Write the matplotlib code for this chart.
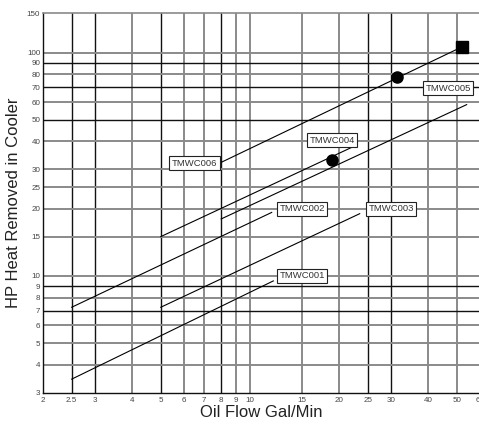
import matplotlib
matplotlib.use("Agg")
import matplotlib.pyplot as plt

plt.rcParams["font.family"] = ["Liberation Sans", "DejaVu Sans"]

# series: straight runs on the log-log grid (start -> end), one per cooler model
names = ["TMWC001", "TMWC002", "TMWC003", "TMWC004", "TMWC005", "TMWC006"]
start_x = [2.5, 2.5, 5.0, 5.0, 8.0, 7.9]
start_y = [3.45, 7.24, 7.24, 15.0, 18.0, 32.0]
end_x = [12.0, 11.85, 23.5, 22.8, 54.0, 52.0]
end_y = [9.5, 19.25, 19.0, 38.4, 58.5, 106.0]

# label box centres
label_x = [15, 15, 30, 19, 46.7, 6.5]
label_y = [10, 20, 20, 40.6, 69.3, 32]

# marked points
circle_x = [18.9, 31.3]
circle_y = [33.2, 78.0]
square_x = [52.0]
square_y = [106.0]

x_ticks = [2, 2.5, 3, 4, 5, 6, 7, 8, 9, 10, 15, 20, 25, 30, 40, 50, 60]
y_ticks = [3, 4, 5, 6, 7, 8, 9, 10, 15, 20, 25, 30, 40, 50, 60, 70, 80, 90, 100, 150]
x_dark = [2.5, 3, 5, 8, 25, 30]
y_dark = [7, 9, 50, 70, 90]

fig = plt.figure(figsize=(4.79, 4.24), dpi=100)
ax = fig.add_axes([43 / 479, 31.3 / 424, 437.2 / 479, 379.4 / 424])
ax.set_xscale("log")
ax.set_yscale("log")
ax.set_xlim(2, 60)
ax.set_ylim(3, 150)

# grid
for v in x_ticks[1:-1]:
    if v in x_dark:
        ax.axvline(v, color="#111111", lw=1.0, zorder=1)
    else:
        ax.axvline(v, color="#8a8a8a", lw=1.4, zorder=1)
for v in y_ticks[1:-1]:
    if v in y_dark:
        ax.axhline(v, color="#111111", lw=1.0, zorder=1)
    else:
        ax.axhline(v, color="#8a8a8a", lw=1.4, zorder=1)

# lines
for i in range(len(names)):
    ax.plot([start_x[i], end_x[i]], [start_y[i], end_y[i]], color="black", lw=0.8, zorder=3)

ax.plot(circle_x, circle_y, "o", color="black", ms=8, zorder=4)
ax.plot(square_x, square_y, "s", color="black", ms=8, zorder=4)

# labels
for i in range(len(names)):
    ax.text(label_x[i], label_y[i], names[i], fontsize=6.8, color="#333333",
            ha="center", va="center", zorder=5,
            bbox=dict(boxstyle="square,pad=0.25", fc="white", ec="#222222", lw=0.8))

ax.set_xticks(x_ticks)
ax.set_xticklabels([str(v) for v in x_ticks])
ax.set_yticks(y_ticks)
ax.set_yticklabels([str(v) for v in y_ticks])
ax.minorticks_off()
ax.tick_params(axis="both", length=0, labelsize=5.8, labelcolor="#444444")
ax.tick_params(axis="x", pad=3)
ax.tick_params(axis="y", pad=2)

for s in ["left", "bottom"]:
    ax.spines[s].set_color("#111111")
    ax.spines[s].set_linewidth(1.0)
for s in ["top", "right"]:
    ax.spines[s].set_color("#8a8a8a")
    ax.spines[s].set_linewidth(1.2)

ax.set_xlabel("Oil Flow Gal/Min", fontsize=12, color="#222222")
ax.set_ylabel("HP Heat Removed in Cooler", fontsize=12, color="#222222")
ax.xaxis.set_label_coords(0.5, -0.032)
ax.yaxis.set_label_coords(-0.05, 0.5)

fig.savefig("out.png", dpi=100)
